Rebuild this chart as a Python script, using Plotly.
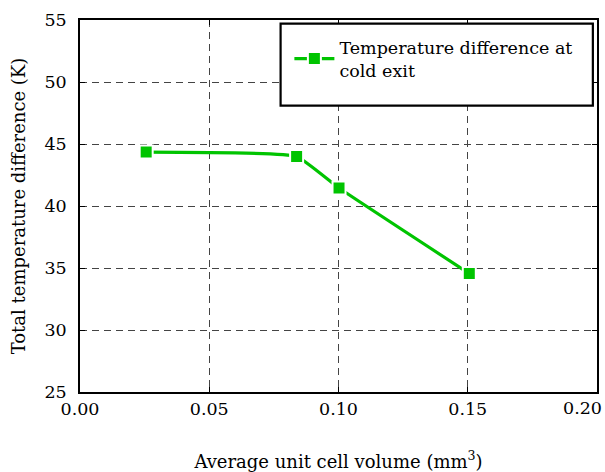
import plotly.graph_objects as go

# Average unit cell volume (mm^3) and total temperature difference (K)
cell_volume = [0.0256, 0.0838, 0.1002, 0.1506]
temp_diff_cold_exit = [44.35, 44.0, 41.45, 34.55]

x_ticks = [0.00, 0.05, 0.10, 0.15]
x_last_tick = 0.20
y_ticks = [25, 30, 35, 40, 45, 50, 55]

GREEN = "#00c400"
FONT = "DejaVu Serif"
TICK_SIZE = 17.5
TITLE_SIZE = 18

fig = go.Figure()
fig.add_trace(go.Scatter(
    x=cell_volume,
    y=temp_diff_cold_exit,
    mode="lines+markers",
    name="Temperature difference at<br>cold exit",
    line=dict(color=GREEN, width=3.2, shape="spline", smoothing=0.35),
    marker=dict(symbol="square", size=13, color=GREEN,
                line=dict(color="white", width=2)),
))

axis_common = dict(
    showline=True, linecolor="black", linewidth=1.5, mirror="ticks",
    ticks="inside", ticklen=5, tickcolor="black",
    showgrid=True, gridcolor="#444444", gridwidth=1.3, griddash="7px,5px",
    zeroline=False, automargin=False,
    tickfont=dict(family=FONT, size=TICK_SIZE, color="black"),
)

fig.update_xaxes(
    range=[0, x_last_tick], tickvals=x_ticks, tickformat=".2f",
    title=dict(text="Average unit cell volume (mm<sup>3</sup>)",
               font=dict(family=FONT, size=TITLE_SIZE, color="black"), standoff=38),
    **axis_common,
)
fig.update_yaxes(
    range=[25, 55], tickvals=y_ticks, ticklabelstandoff=8,
    title=dict(text="Total temperature difference (K)",
               font=dict(family=FONT, size=TITLE_SIZE, color="black"), standoff=14),
    **axis_common,
)

# Last x tick label, kept inside the page at the right edge of the axis
fig.add_annotation(
    x=x_last_tick, xref="x", y=0, yref="paper",
    text=f"{x_last_tick:.2f}", showarrow=False,
    xanchor="right", yanchor="top", xshift=7, yshift=-4,
    font=dict(family=FONT, size=TICK_SIZE, color="black"),
)

# Legend frame
fig.add_shape(type="rect", xref="paper", yref="paper",
              x0=0.388, x1=0.992, y0=0.77, y1=0.99,
              line=dict(color="black", width=2.2), fillcolor="white", layer="above")

fig.update_layout(
    width=605, height=472,
    margin=dict(l=80, r=8, t=20, b=80),
    paper_bgcolor="white", plot_bgcolor="white",
    showlegend=True,
    legend=dict(x=0.405, y=0.975, xanchor="left", yanchor="top",
                bgcolor="rgba(0,0,0,0)", borderwidth=0,
                font=dict(family=FONT, size=TICK_SIZE, color="black"),
                itemwidth=40),
)

fig.write_html("out.html")
